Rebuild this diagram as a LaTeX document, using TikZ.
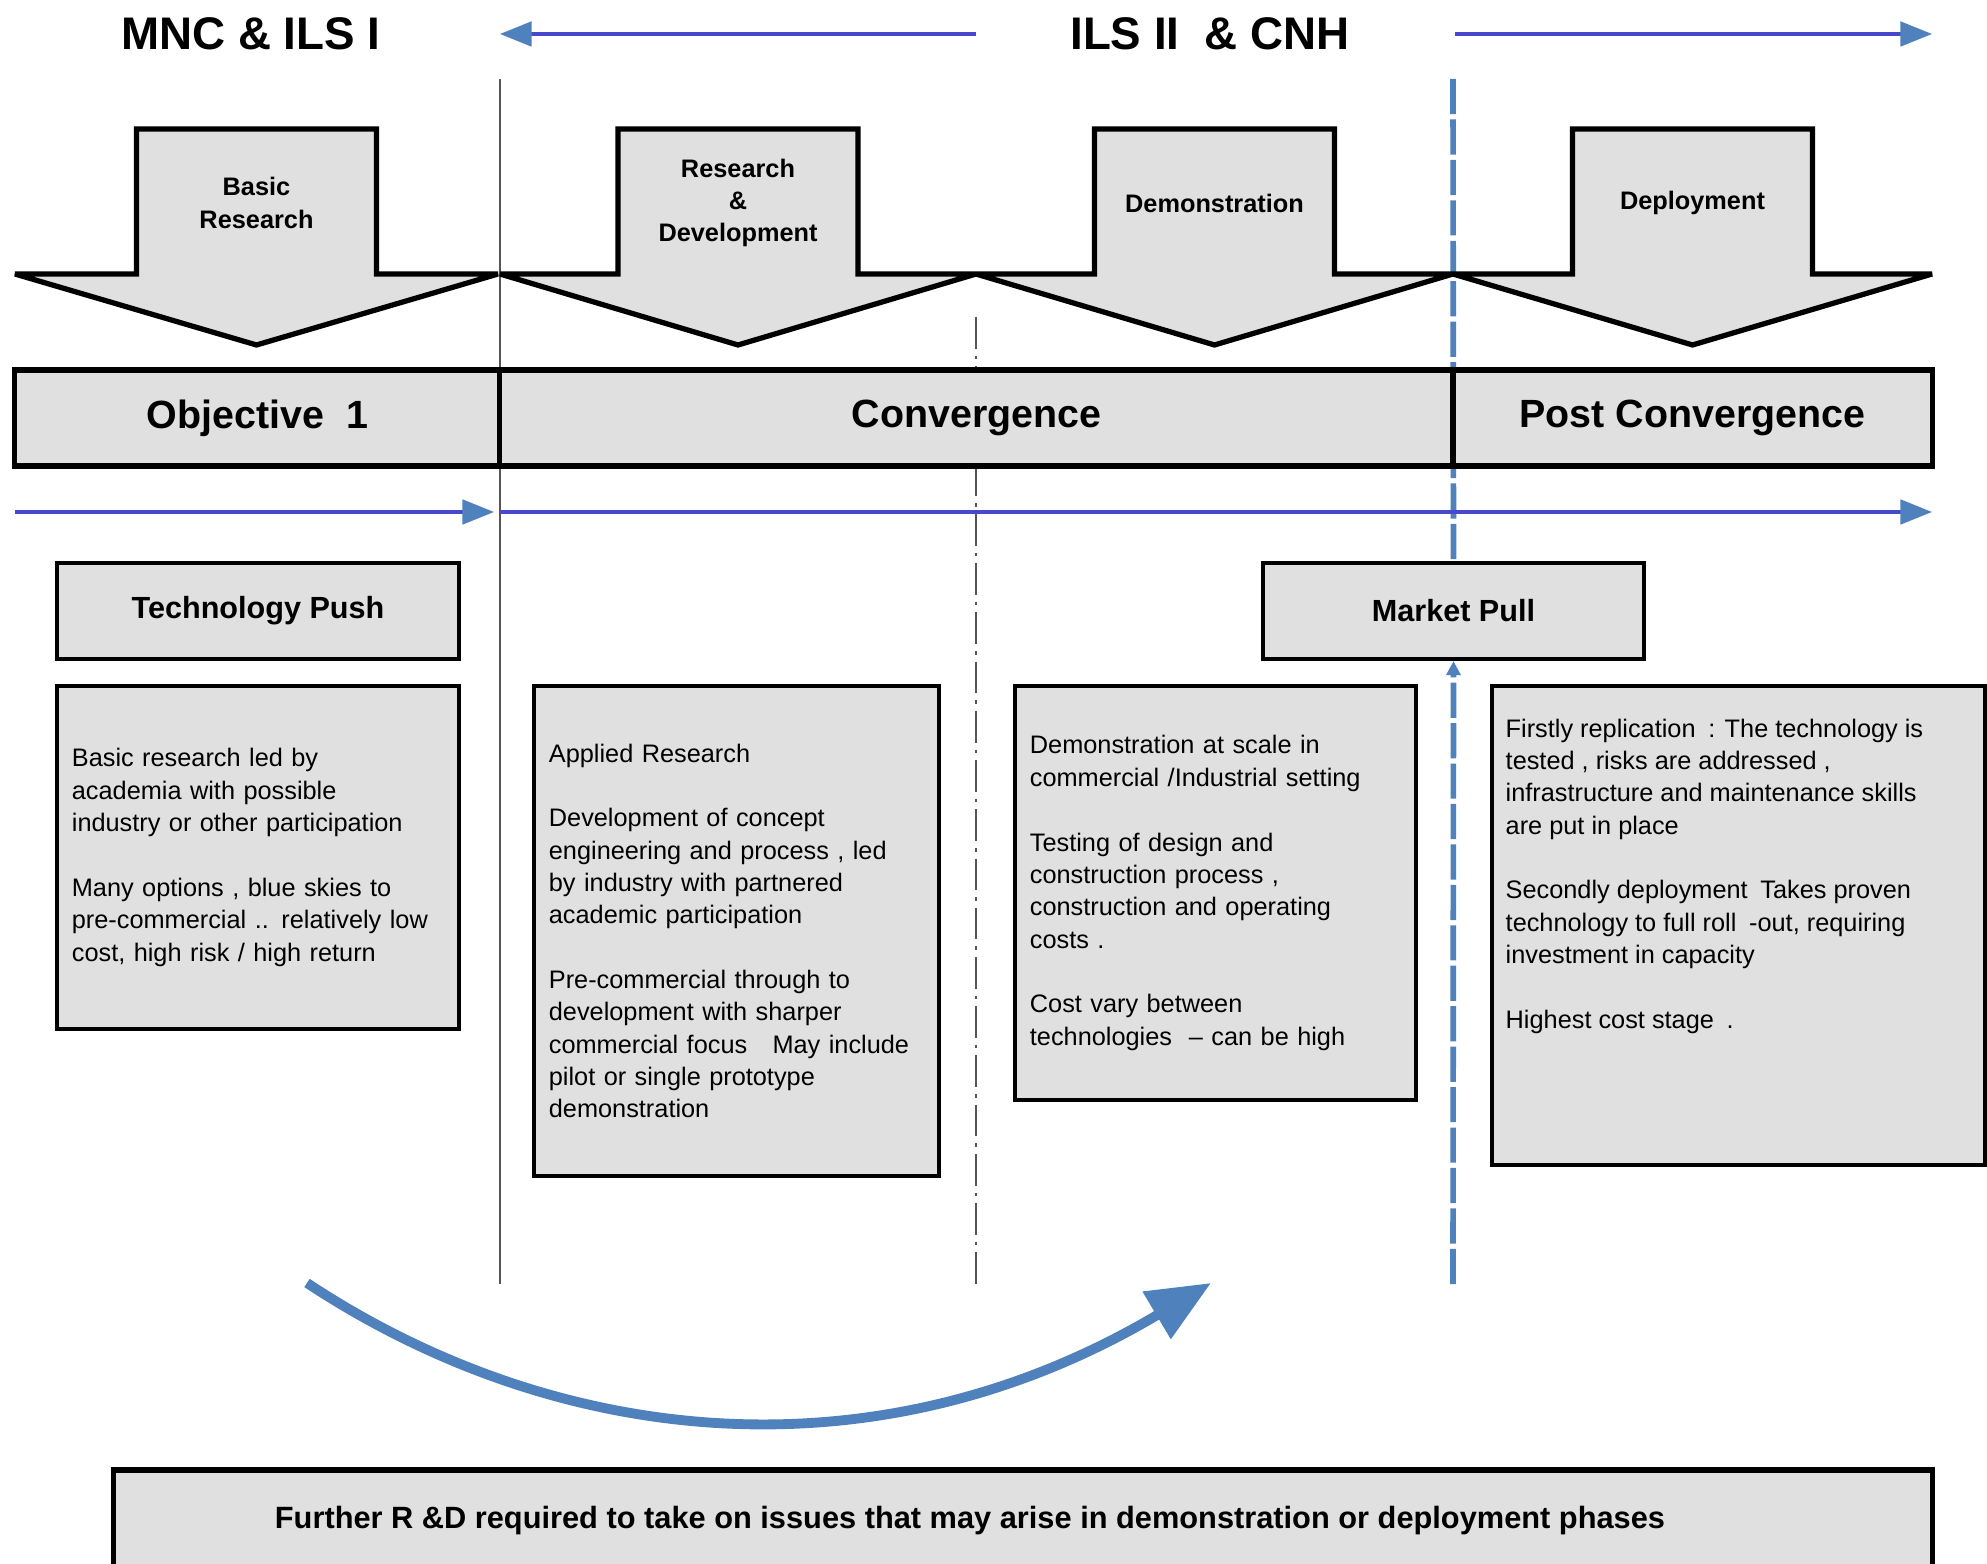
\documentclass[tikz,border=0pt]{standalone}
\usepackage{fontspec}
\setmainfont{Liberation Sans}
\usetikzlibrary{arrows.meta,backgrounds}

\definecolor{boxgray}{RGB}{224,224,224}
\definecolor{tipblue}{RGB}{79,129,189}
\definecolor{lineblue}{RGB}{72,72,205}
\definecolor{rulegray}{RGB}{85,85,85}

\tikzset{
  phase/.style={draw=black, line width=1.5pt, fill=boxgray, font=\bfseries\fontsize{11.2}{13}\selectfont},
  headbox/.style={draw=black, line width=1.2pt, fill=boxgray, font=\bfseries\fontsize{8.7}{10}\selectfont},
  infobox/.style={draw=black, line width=1.2pt, fill=boxgray, align=left, inner xsep=0.15cm, font=\fontsize{7.2}{9.2}\selectfont},
  infotext/.style={align=left, inner sep=0pt, font=\fontsize{7.2}{9.2}\selectfont},
  stagearrow/.style={draw=black, line width=1.5pt, fill=boxgray, line join=miter, miter limit=1.5},
  stagelabel/.style={align=center, font=\bfseries\fontsize{7.2}{9.2}\selectfont},
  title/.style={font=\bfseries\fontsize{13}{15}\selectfont},
  timeline/.style={lineblue, line width=0.9pt, -{Triangle[length=9pt,width=7pt,color=tipblue]}},
  bluerule/.style={tipblue, line width=1.6pt, dash pattern=on 10pt off 1.5pt},
}

\begin{document}
\begin{tikzpicture}[x=0.01cm,y=-0.01cm]
  \useasboundingbox (0,0) rectangle (1987,1564);

  % headings over the timeline
  \node[title] (mnc) at (251,34) {MNC \& ILS I};
  \node[title] (cnh) at (1210,34) {ILS II\ \ \& CNH};
  \coordinate (lstart) at (976,34);
  \coordinate (lend) at (500,34);
  \coordinate (rstart) at (1455,34);
  \coordinate (rend) at (1932,34);
  \draw[timeline] (lstart) -- (lend);
  \draw[timeline] (rstart) -- (rend);

  % stage arrows
  \foreach \xl/\xr/\nm/\txt in {15/498/basic/{Basic\\Research},
      500/976/rnd/{Research\\\&\\Development},
      976/1453/demo/{Demonstration},
      1453/1932/deploy/{Deployment}} {
    \pgfmathsetmacro\xm{(\xl+\xr)/2}
    \draw[stagearrow] (\xl,274) -- (\xm-120,274) -- (\xm-120,129) -- (\xm+120,129)
      -- (\xm+120,274) -- (\xr,274) -- (\xm,345) -- cycle;
    \node[stagelabel] (\nm) at (\xm,203) {\txt};
  }

  % funding phases
  \node[phase, minimum width=4.85cm, minimum height=0.96cm] (obj) at (257.5,418) {Objective\ \ 1};
  \node[phase, minimum width=9.53cm, minimum height=0.96cm] (conv) at (976.5,418) {Convergence};
  \node[phase, minimum width=4.79cm, minimum height=0.96cm] (post) at (1692.5,418) {Post Convergence};

  \coordinate (t0) at (15,512);
  \coordinate (t1) at (494,512);
  \coordinate (t2) at (500,512);
  \coordinate (t3) at (1932,512);
  \draw[timeline] (t0) -- (t1);
  \draw[timeline] (t2) -- (t3);

  \node[headbox, minimum width=4.02cm, minimum height=0.96cm] (push) at (258,611) {Technology Push};
  \node[headbox, minimum width=3.81cm, minimum height=0.96cm] (pull) at (1453.5,611) {Market Pull};

  % stage descriptions
  \node[infobox, text width=3.72cm, minimum height=3.43cm] (basictxt) at (258,857.5)
    {Basic research led by\\
     academia with possible\\
     industry or other participation\\[9.2pt]
     Many options , blue skies to\\
     pre-commercial .. relatively low\\
     cost, high risk / high return};
  \node[infobox, text width=3.75cm, minimum height=4.90cm] (rndtxt) at (736.5,931)
    {Applied Research\\[9.2pt]
     Development of concept\\
     engineering and process , led\\
     by industry with partnered\\
     academic participation\\[9.2pt]
     Pre-commercial through to\\
     development with sharper\\
     commercial focus\quad May include\\
     pilot or single prototype\\
     demonstration};
  \node[infobox, text width=3.71cm, minimum height=4.14cm] (demotxt) at (1215.5,893)
    {Demonstration at scale in\\
     commercial /Industrial setting\\[9.2pt]
     Testing of design and\\
     construction process ,\\
     construction and operating\\
     costs .\\[9.2pt]
     Cost vary between\\
     technologies\ \ -- can be high};
  \node[infobox, minimum width=4.93cm, minimum height=4.79cm] (deploybox) at (1738.5,925.5) {};
  \node[infotext, anchor=north west] (deploytxt) at (1505,718)
    {Firstly replication\enspace: The technology is\\
     tested , risks are addressed ,\\
     infrastructure and maintenance skills\\
     are put in place\\[9.2pt]
     Secondly deployment\enspace Takes proven\\
     technology to full roll\enspace-out, requiring\\
     investment in capacity\\[9.2pt]
     Highest cost stage\enspace.};

  % feedback loop
  \coordinate (rdfrom) at (307,1283);
  \coordinate (rdto) at (1211,1283);
  \draw[tipblue, line width=2.8pt, -{Triangle[length=18pt,width=15pt]}]
    (rdfrom) .. controls (560,1450) and (880,1480) .. (rdto);

  \node[draw=black, line width=1.6pt, fill=boxgray, minimum width=18.18cm, minimum height=1.5cm] (further) at (1023,1545) {};
  \node[font=\bfseries\fontsize{8.75}{10}\selectfont] (furthertxt) at (970,1521)
    {Further R \&D required to take on issues that may arise in demonstration or deployment phases};

  % boundaries between phases
  \begin{scope}[on background layer]
    \draw[rulegray, line width=0.8pt] (500,79) -- (500,1284);
    \draw[rulegray, line width=0.7pt, dash pattern=on 9pt off 2pt on 1pt off 2pt] (976,317) -- (976,1286);
    \draw[bluerule] (1453,79) -- (pull.north);
    \draw[bluerule, -{Triangle[length=4pt,width=4pt]}] (1453,1284) -- (pull.south);
  \end{scope}
\end{tikzpicture}
\end{document}
